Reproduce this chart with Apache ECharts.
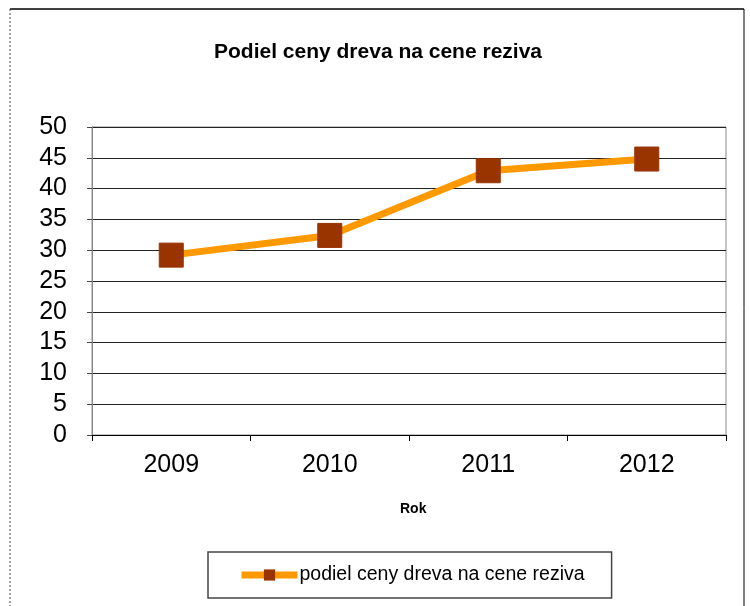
<!DOCTYPE html>
<html><head><meta charset="utf-8">
<script src="https://cdn.jsdelivr.net/npm/echarts@6/dist/echarts.min.js"></script>
<style>html,body{margin:0;padding:0;background:#fff}#c{width:750px;height:606px}</style>
</head><body><div id="c"></div>
<script>
var categories = ['2009', '2010', '2011', '2012'];
var values = [29.2, 32.4, 42.9, 44.8];
var seriesName = 'podiel ceny dreva na cene reziva';
var titleText = 'Podiel ceny dreva na cene reziva';
var xName = 'Rok';

var chart = echarts.init(document.getElementById('c'), null, {renderer: 'canvas'});
chart.setOption({
  animation: false,
  backgroundColor: '#fff',
  title: {
    text: titleText, left: 373, top: 37, textAlign: 'center',
    textStyle: {fontFamily: 'Liberation Sans, Arial', fontWeight: 'bold', fontSize: 21, color: '#000'}
  },
  graphic: [
    {type: 'line', shape: {x1: 10, y1: 9, x2: 744, y2: 9}, style: {stroke: '#000', lineWidth: 1.5}},
    {type: 'line', shape: {x1: 10, y1: 9, x2: 10, y2: 606}, style: {stroke: '#444', lineWidth: 1, lineDash: [2, 2]}},
    {type: 'line', shape: {x1: 744, y1: 9, x2: 744, y2: 606}, style: {stroke: '#000', lineWidth: 1}},
    {type: 'text', left: 400, top: 502, style: {text: xName, font: 'bold 14px Liberation Sans, Arial', fill: '#000'}}
  ],
  grid: {left: 92, right: 24, top: 127, bottom: 171, show: true, borderColor: '#888', borderWidth: 1},
  legend: {
    show: true, left: 208, top: 552,
    padding: [13, 27, 13, 30],
    borderColor: '#444', borderWidth: 1.5, borderRadius: 0,
    itemWidth: 56, itemHeight: 14,
    itemGap: 4,
    lineStyle: {width: 7, color: '#FF9900'},
    textStyle: {fontFamily: 'Liberation Sans, Arial', fontSize: 19.5, color: '#000', padding: [0,0,0,-3]},
    data: [{name: seriesName}]
  },
  xAxis: {
    type: 'category', data: categories, boundaryGap: true,
    axisLine: {lineStyle: {color: '#000', width: 1}},
    axisTick: {show: true, length: 6, lineStyle: {color: '#000'}},
    axisLabel: {fontFamily: 'Liberation Sans, Arial', fontSize: 25, color: '#000', margin: 18}
  },
  yAxis: {
    type: 'value', min: 0, max: 50, interval: 5,
    axisLine: {show: true, lineStyle: {color: '#888', width: 1}},
    axisTick: {show: true, length: 5, lineStyle: {color: '#444'}},
    axisLabel: {fontFamily: 'Liberation Sans, Arial', fontSize: 25, color: '#000', margin: 25},
    splitLine: {show: true, lineStyle: {color: '#222', width: 1}}
  },
  series: [{
    name: seriesName, type: 'line', data: values,
    symbol: 'rect', symbolSize: 24,
    lineStyle: {color: '#FF9900', width: 7},
    itemStyle: {color: '#993300', borderColor: '#993300'},
    z: 3
  }]
});
</script></body></html>
